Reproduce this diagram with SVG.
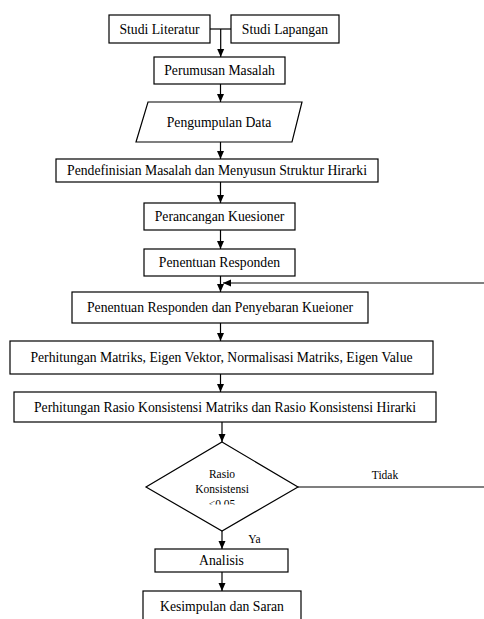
<svg xmlns="http://www.w3.org/2000/svg" width="484" height="619" viewBox="0 0 484 619">
<style>
.b{fill:#fff;stroke:#000;stroke-width:1.2}
.t{font-family:'Liberation Serif','Times New Roman',serif;font-size:13.7px;fill:#000;text-anchor:middle}
.s{font-family:'Liberation Serif','Times New Roman',serif;font-size:11.5px;fill:#000;text-anchor:middle}
.c{fill:none;stroke:#000;stroke-width:1.2}
</style>
<defs>
<marker id="ah" markerWidth="8" markerHeight="8" viewBox="0 0 8 8" refX="8" refY="4" orient="auto" markerUnits="userSpaceOnUse">
<path d="M0,0.5 L8,4 L0,7.5 Z" fill="#000"/>
</marker>
<clipPath id="dc"><rect x="140" y="440" width="160" height="64.5"/></clipPath>
</defs>
<g id="connectors">
<path class="c" d="M210,29 H231"/>
<path class="c" d="M220.7,29 V57" marker-end="url(#ah)"/>
<path class="c" d="M220.5,84 V102" marker-end="url(#ah)"/>
<path class="c" d="M220.5,142 V159" marker-end="url(#ah)"/>
<path class="c" d="M220.5,182 V203" marker-end="url(#ah)"/>
<path class="c" d="M220.5,230 V249" marker-end="url(#ah)"/>
<path class="c" d="M220.5,276 V292" marker-end="url(#ah)"/>
<path class="c" d="M484,283 H223" marker-end="url(#ah)"/>
<path class="c" d="M220.5,323 V341" marker-end="url(#ah)"/>
<path class="c" d="M220.5,374 V392" marker-end="url(#ah)"/>
<path class="c" d="M222,422 V442" marker-end="url(#ah)"/>
<path class="c" d="M298,487 H484"/>
<text class="s" x="385" y="479">Tidak</text>
<path class="c" d="M222,531 V549" marker-end="url(#ah)"/>
<text class="s" x="254.5" y="543">Ya</text>
<path class="c" d="M222,572 V591" marker-end="url(#ah)"/>
</g>
<g id="n1"><rect class="b" x="109" y="15" width="101" height="28"/><text class="t" x="159.5" y="33.5">Studi Literatur</text></g>
<g id="n2"><rect class="b" x="231" y="15" width="108" height="28"/><text class="t" x="285" y="33.5">Studi Lapangan</text></g>
<g id="n3"><rect class="b" x="154" y="57" width="131" height="27"/><text class="t" x="219.5" y="75">Perumusan Masalah</text></g>
<g id="n4"><path class="b" d="M148,102 H302 L292,142 H136 Z"/><text class="t" x="219" y="126.5">Pengumpulan Data</text></g>
<g id="n5"><rect class="b" x="56" y="159" width="322" height="23"/><text class="t" x="217" y="175">Pendefinisian Masalah dan Menyusun Struktur Hirarki</text></g>
<g id="n6"><rect class="b" x="144" y="203" width="151" height="27"/><text class="t" x="219.5" y="221">Perancangan Kuesioner</text></g>
<g id="n7"><rect class="b" x="144" y="249" width="151" height="27"/><text class="t" x="219.5" y="267">Penentuan Responden</text></g>
<g id="n8"><rect class="b" x="72" y="292" width="296" height="31"/><text class="t" x="220" y="312">Penentuan Responden dan Penyebaran Kueioner</text></g>
<g id="n9"><rect class="b" x="10" y="341" width="423" height="33"/><text class="t" x="221.5" y="362">Perhitungan Matriks, Eigen Vektor, Normalisasi Matriks, Eigen Value</text></g>
<g id="n10"><rect class="b" x="14" y="392" width="422" height="30"/><text class="t" x="225" y="411.5">Perhitungan Rasio Konsistensi Matriks dan Rasio Konsistensi Hirarki</text></g>
<g id="n11"><path class="b" d="M222,442 L298,487 L222,531 L146,487 Z"/>
<g clip-path="url(#dc)"><text class="s" x="222" y="478">Rasio</text><text class="s" x="222" y="493">Konsistensi</text><text class="s" x="222" y="508">&lt;0.05</text></g></g>
<g id="n12"><rect class="b" x="155" y="549" width="133" height="23"/><text class="t" x="221.5" y="565">Analisis</text></g>
<g id="n13"><rect class="b" x="143" y="591" width="158" height="40"/><text class="t" x="222" y="611">Kesimpulan dan Saran</text></g>
</svg>
